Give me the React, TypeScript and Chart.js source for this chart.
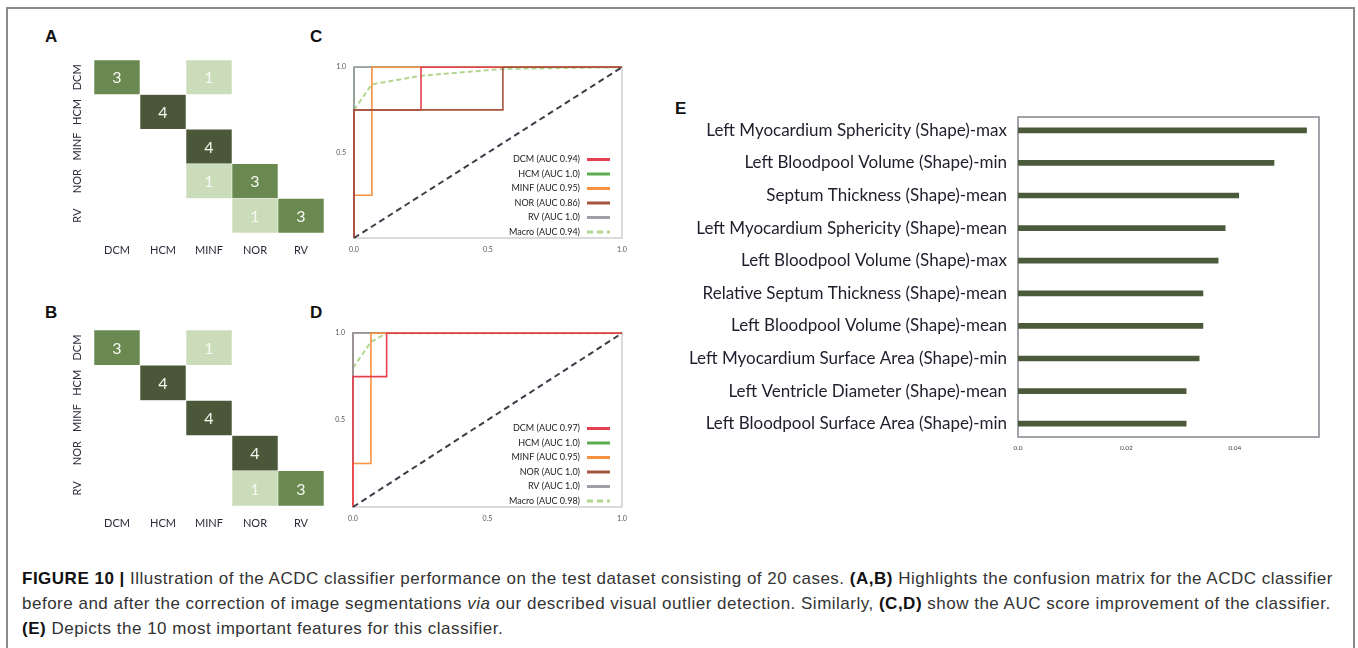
import React, { useEffect, useRef } from 'react';
import { Chart, registerables } from 'chart.js';
Chart.register(...registerables);

// ---------- DATA ----------
const CLASSES = ['DCM', 'HCM', 'MINF', 'NOR', 'RV'];

// Confusion matrix A (rows = true class, columns = predicted class)
const CM_A_DCM = [3, 0, 1, 0, 0];
const CM_A_HCM = [0, 4, 0, 0, 0];
const CM_A_MINF = [0, 0, 4, 0, 0];
const CM_A_NOR = [0, 0, 1, 3, 0];
const CM_A_RV = [0, 0, 0, 1, 3];

// Confusion matrix B
const CM_B_DCM = [3, 0, 1, 0, 0];
const CM_B_HCM = [0, 4, 0, 0, 0];
const CM_B_MINF = [0, 0, 4, 0, 0];
const CM_B_NOR = [0, 0, 0, 4, 0];
const CM_B_RV = [0, 0, 0, 1, 3];

// ROC axis ticks
const ROC_TICKS = [0, 0.5, 1];

// ROC curves, panel C
const C_DCM_FPR = [0, 0, 0.25, 0.25, 1];
const C_DCM_TPR = [0, 0.75, 0.75, 1, 1];
const C_HCM_FPR = [0, 0, 1];
const C_HCM_TPR = [0, 1, 1];
const C_MINF_FPR = [0, 0, 0.0667, 0.0667, 1];
const C_MINF_TPR = [0, 0.25, 0.25, 1, 1];
const C_NOR_FPR = [0, 0, 0.5556, 0.5556, 1];
const C_NOR_TPR = [0, 0.75, 0.75, 1, 1];
const C_RV_FPR = [0, 0, 1];
const C_RV_TPR = [0, 1, 1];
const C_MACRO_FPR = [0, 0.0667, 0.25, 0.5556, 1];
const C_MACRO_TPR = [0.75, 0.9, 0.95, 0.99, 1];
const C_LABELS = ['DCM (AUC 0.94)', 'HCM (AUC 1.0)', 'MINF (AUC 0.95)', 'NOR (AUC 0.86)', 'RV (AUC 1.0)', 'Macro (AUC 0.94)'];
const C_ORDER = [3, 6, 4, 2, 5, 7];

// ROC curves, panel D
const D_DCM_FPR = [0, 0, 0.125, 0.125, 1];
const D_DCM_TPR = [0, 0.75, 0.75, 1, 1];
const D_HCM_FPR = [0, 0, 1];
const D_HCM_TPR = [0, 1, 1];
const D_MINF_FPR = [0, 0, 0.0667, 0.0667, 1];
const D_MINF_TPR = [0, 0.25, 0.25, 1, 1];
const D_NOR_FPR = [0, 0, 1];
const D_NOR_TPR = [0, 1, 1];
const D_RV_FPR = [0, 0, 1];
const D_RV_TPR = [0, 1, 1];
const D_MACRO_FPR = [0, 0.0667, 0.125, 1];
const D_MACRO_TPR = [0.8, 0.95, 1, 1];
const D_LABELS = ['DCM (AUC 0.97)', 'HCM (AUC 1.0)', 'MINF (AUC 0.95)', 'NOR (AUC 1.0)', 'RV (AUC 1.0)', 'Macro (AUC 0.98)'];
const D_ORDER = [2, 6, 3, 5, 4, 7];

const DIAG_X = [0, 1];
const DIAG_Y = [0, 1];

// Feature importance, panel E
const FEATURES = [
  'Left Myocardium Sphericity (Shape)-max',
  'Left Bloodpool Volume (Shape)-min',
  'Septum Thickness (Shape)-mean',
  'Left Myocardium Sphericity (Shape)-mean',
  'Left Bloodpool Volume (Shape)-max',
  'Relative Septum Thickness (Shape)-mean',
  'Left Bloodpool Volume (Shape)-mean',
  'Left Myocardium Surface Area (Shape)-min',
  'Left Ventricle Diameter (Shape)-mean',
  'Left Bloodpool Surface Area (Shape)-min',
];
const IMPORTANCE = [0.0532, 0.0472, 0.0407, 0.0382, 0.0369, 0.0341, 0.0341, 0.0334, 0.031, 0.031];
const E_TICKS = [0, 0.02, 0.04];

// ---------- STYLE ----------
const CELL_COLORS: Record<number, string> = { 1: '#cbdcbb', 3: '#6a8951', 4: '#4a5839' };
const SERIES_COLORS = ['#e5404f', '#5cad4f', '#f7913f', '#a4553e', '#9d9ea6', '#b3d68f'];
const FONT = 'Lato';

// ---------- PLUGINS ----------
const framePlugin = (color: string, width: number, inset: number) => ({
  id: 'frame',
  beforeDatasetsDraw(chart: any) {
    const { ctx, chartArea: a } = chart;
    ctx.save();
    ctx.strokeStyle = color;
    ctx.lineWidth = width;
    ctx.strokeRect(a.left, a.top + inset, a.right - a.left, a.bottom - a.top - 2 * inset);
    ctx.restore();
  },
});

const cmTextPlugin = (rows: number[][]) => ({
  id: 'cmText',
  afterDatasetsDraw(chart: any) {
    const { ctx, chartArea } = chart;
    const xs = chart.scales.x;
    const ys = chart.scales.y;
    ctx.save();
    ctx.textAlign = 'center';
    ctx.textBaseline = 'middle';
    ctx.font = `16px ${FONT}`;
    ctx.fillStyle = '#f6f8f2';
    rows.forEach((row, r) => {
      row.forEach((v, c) => {
        if (v > 0) ctx.fillText(String(v), xs.getPixelForValue(c), ys.getPixelForValue(r + 0.5) + 1);
      });
    });
    ctx.font = `11px ${FONT}`;
    ctx.fillStyle = '#2b2b3b';
    CLASSES.forEach((name, r) => {
      ctx.save();
      ctx.translate(chartArea.left - 17, ys.getPixelForValue(r + 0.5));
      ctx.rotate(-Math.PI / 2);
      ctx.fillText(name, 0, 0);
      ctx.restore();
    });
    ctx.restore();
  },
});

const rocLegendPlugin = {
  id: 'rocLegend',
  afterDatasetsDraw(chart: any) {
    const { ctx, chartArea } = chart;
    const items = chart.data.datasets.filter((d: any) => d.label);
    const n = items.length;
    ctx.save();
    ctx.font = `9px ${FONT}`;
    ctx.textAlign = 'right';
    ctx.textBaseline = 'middle';
    items.forEach((d: any, i: number) => {
      const y = chartArea.bottom - 6 - (n - 1 - i) * 14.5;
      ctx.fillStyle = '#222';
      ctx.fillText(d.label, chartArea.right - 42, y);
      ctx.strokeStyle = d.borderColor;
      ctx.lineWidth = 3;
      ctx.setLineDash(d.borderDash && d.borderDash.length ? [6, 4] : []);
      ctx.beginPath();
      ctx.moveTo(chartArea.right - 35, y);
      ctx.lineTo(chartArea.right - 12, y);
      ctx.stroke();
    });
    ctx.restore();
  },
};

// ---------- CONFIGS ----------
function cmConfig(rows: number[][]) {
  return {
    type: 'bar',
    data: {
      labels: CLASSES,
      datasets: rows.map((row, r) => ({
        label: CLASSES[r],
        data: row.map((v) => (v > 0 ? [r, r + 1] : null)),
        backgroundColor: row.map((v) => CELL_COLORS[v] || 'rgba(0,0,0,0)'),
        borderColor: 'rgba(255,255,255,0.6)',
        borderWidth: 0.6,
        borderSkipped: false,
        grouped: false,
        barPercentage: 1,
        categoryPercentage: 1,
      })),
    },
    options: {
      responsive: false,
      animation: false,
      events: [],
      layout: { padding: { left: 0, top: 10, right: 11, bottom: 0 } },
      plugins: { legend: { display: false }, tooltip: { enabled: false } },
      scales: {
        x: {
          ticks: { font: { family: FONT, size: 11 }, color: '#2b2b3b', padding: 11 },
          grid: { display: false, drawTicks: false },
          border: { display: false },
          afterFit: (s: any) => { s.height = 32; },
        },
        y: {
          min: 0,
          max: 5,
          reverse: true,
          ticks: { display: false },
          grid: { display: false, drawTicks: false },
          border: { display: false },
          afterFit: (s: any) => { s.width = 34; },
        },
      },
    },
    plugins: [cmTextPlugin(rows)],
  };
}

function toPts(xs: number[], ys: number[]) {
  return xs.map((x, i) => ({ x, y: ys[i] }));
}

function rocConfig(fprs: number[][], tprs: number[][], labels: string[], orders: number[]) {
  const datasets: any[] = fprs.map((f, i) => ({
    label: labels[i],
    data: toPts(f, tprs[i]),
    borderColor: SERIES_COLORS[i],
    borderWidth: i === 5 ? 2 : 1.6,
    borderDash: i === 5 ? [5, 3] : [],
    showLine: true,
    pointRadius: 0,
    fill: false,
    clip: false,
    order: orders[i],
  }));
  datasets.push({
    label: '',
    data: toPts(DIAG_X, DIAG_Y),
    borderColor: '#3d3d48',
    borderWidth: 2,
    borderDash: [6, 4],
    showLine: true,
    pointRadius: 0,
    fill: false,
    clip: false,
    order: 1,
  });
  const tickFont = { family: FONT, size: 7, lineHeight: 2.2 };
  return {
    type: 'scatter',
    data: { datasets },
    options: {
      responsive: false,
      animation: false,
      events: [],
      layout: { padding: { left: 0, top: 10, right: 9, bottom: 0 } },
      plugins: { legend: { display: false }, tooltip: { enabled: false } },
      scales: {
        x: {
          type: 'linear',
          min: 0,
          max: 1,
          afterBuildTicks: (s: any) => { s.ticks = ROC_TICKS.map((v) => ({ value: v })); },
          ticks: { font: tickFont, color: '#555', padding: 4, callback: (v: any) => Number(v).toFixed(1), maxRotation: 0 },
          grid: { display: false, drawTicks: false },
          border: { display: false },
          afterFit: (s: any) => { s.height = 22; },
        },
        y: {
          type: 'linear',
          min: 0,
          max: 1,
          afterBuildTicks: (s: any) => { s.ticks = ROC_TICKS.filter((v) => v > 0).map((v) => ({ value: v })); },
          ticks: { font: { family: FONT, size: 7 }, color: '#555', padding: 8, callback: (v: any) => Number(v).toFixed(1) },
          grid: { display: false, drawTicks: false },
          border: { display: false },
          afterFit: (s: any) => { s.width = 29; },
        },
      },
    },
    plugins: [framePlugin('#d2d2d6', 1.6, 0), rocLegendPlugin],
  };
}

function barConfig() {
  return {
    type: 'bar',
    data: {
      labels: FEATURES,
      datasets: [{ data: IMPORTANCE, backgroundColor: '#4b5a3a', barThickness: 5 }],
    },
    options: {
      indexAxis: 'y',
      responsive: false,
      animation: false,
      events: [],
      layout: { padding: { left: 0, top: 14, right: 11, bottom: 0 } },
      plugins: { legend: { display: false }, tooltip: { enabled: false } },
      scales: {
        x: {
          type: 'linear',
          min: 0,
          max: 0.0555,
          afterBuildTicks: (s: any) => { s.ticks = E_TICKS.map((v) => ({ value: v })); },
          ticks: { font: { family: FONT, size: 6.5 }, color: '#444', padding: 4, callback: (v: any) => (v === 0 ? '0.0' : String(v)), maxRotation: 0 },
          grid: { display: false, drawTicks: false },
          border: { display: false },
          afterFit: (s: any) => { s.height = 20; },
        },
        y: {
          ticks: { font: { family: FONT, size: 17 }, color: '#1e1e2c', padding: 11 },
          grid: { display: false, drawTicks: false },
          border: { display: false },
          afterFit: (s: any) => {
            s.width = 378;
            s.paddingTop = 0;
            s.paddingBottom = 0;
          },
        },
      },
    },
    plugins: [framePlugin('#8c8c94', 1.6, 3)],
  };
}

// ---------- COMPONENTS ----------
function ChartCanvas({ left, top, width, height, make }: any) {
  const ref = useRef<HTMLCanvasElement>(null);
  useEffect(() => {
    const chart = new Chart(ref.current as any, make());
    return () => chart.destroy();
  }, []);
  return (
    <canvas
      ref={ref}
      width={width}
      height={height}
      style={{ position: 'absolute', left, top, width, height }}
    />
  );
}

const letterStyle = (left: number, top: number): React.CSSProperties => ({
  position: 'absolute',
  left,
  top,
  fontFamily: '"Liberation Sans", Arial, sans-serif',
  fontWeight: 'bold',
  fontSize: 17,
  lineHeight: '17px',
  color: '#111',
});

export default function App() {
  const cmA = [CM_A_DCM, CM_A_HCM, CM_A_MINF, CM_A_NOR, CM_A_RV];
  const cmB = [CM_B_DCM, CM_B_HCM, CM_B_MINF, CM_B_NOR, CM_B_RV];
  return (
    <div style={{ position: 'fixed', left: 0, top: 0, width: 1358, height: 648, background: '#fff', overflow: 'hidden' }}>
      <div style={{ position: 'absolute', left: 6, top: 7, width: 1345, height: 700, border: '2px solid #8a8a8a' }} />
      <div style={letterStyle(45, 28)}>A</div>
      <div style={letterStyle(45, 304)}>B</div>
      <div style={letterStyle(310, 28)}>C</div>
      <div style={letterStyle(310, 304)}>D</div>
      <div style={letterStyle(675, 100)}>E</div>
      <ChartCanvas left={60} top={50} width={275} height={215} make={() => cmConfig(cmA)} />
      <ChartCanvas left={60} top={320} width={275} height={218} make={() => cmConfig(cmB)} />
      <ChartCanvas
        left={325}
        top={55}
        width={306}
        height={205}
        make={() =>
          rocConfig(
            [C_DCM_FPR, C_HCM_FPR, C_MINF_FPR, C_NOR_FPR, C_RV_FPR, C_MACRO_FPR],
            [C_DCM_TPR, C_HCM_TPR, C_MINF_TPR, C_NOR_TPR, C_RV_TPR, C_MACRO_TPR],
            C_LABELS,
            C_ORDER
          )
        }
      />
      <ChartCanvas
        left={324}
        top={321}
        width={307}
        height={208}
        make={() =>
          rocConfig(
            [D_DCM_FPR, D_HCM_FPR, D_MINF_FPR, D_NOR_FPR, D_RV_FPR, D_MACRO_FPR],
            [D_DCM_TPR, D_HCM_TPR, D_MINF_TPR, D_NOR_TPR, D_RV_TPR, D_MACRO_TPR],
            D_LABELS,
            D_ORDER
          )
        }
      />
      <ChartCanvas left={640} top={100} width={690} height={360} make={barConfig} />
      <div
        style={{
          position: 'absolute',
          left: 22,
          top: 566,
          fontFamily: '"Liberation Sans", Arial, sans-serif',
          fontSize: 17,
          letterSpacing: '0.5px',
          lineHeight: '25px',
          color: '#333',
          whiteSpace: 'nowrap',
        }}
      >
        <b style={{ color: '#111' }}>FIGURE 10 |</b> Illustration of the ACDC classifier performance on the test dataset consisting of 20 cases.{' '}
        <b style={{ color: '#111' }}>(A,B)</b> Highlights the confusion matrix for the ACDC classifier
        <br />
        before and after the correction of image segmentations <i>via</i> our described visual outlier detection. Similarly,{' '}
        <b style={{ color: '#111' }}>(C,D)</b> show the AUC score improvement of the classifier.
        <br />
        <b style={{ color: '#111' }}>(E)</b> Depicts the 10 most important features for this classifier.
      </div>
    </div>
  );
}
